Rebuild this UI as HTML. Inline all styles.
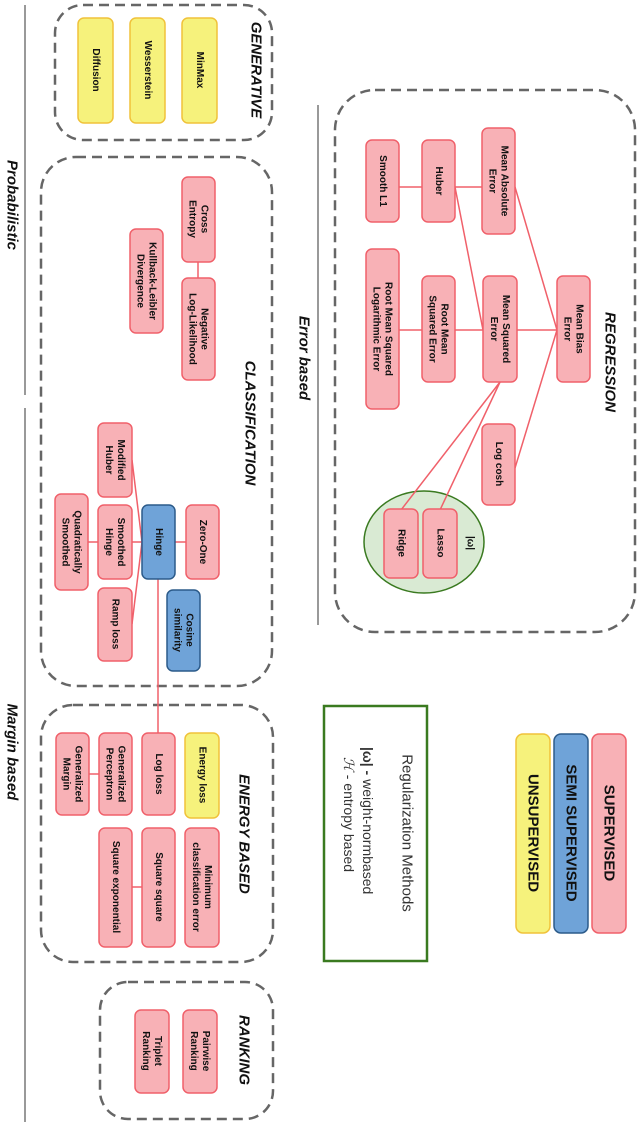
<!DOCTYPE html>
<html><head><meta charset="utf-8"><style>
html,body{margin:0;padding:0;background:#fff}
svg{display:block}
.p{fill:#f8b1b6;stroke:#f0606a;stroke-width:1.5}
.b{fill:#6fa3d8;stroke:#2c5b8a;stroke-width:1.5}
.y{fill:#f6f27c;stroke:#f0c23a;stroke-width:1.5}
.g{fill:none;stroke:#666;stroke-width:2.5;stroke-dasharray:10 6}
.l{stroke:#f0606a;stroke-width:1.5;fill:none}
text{font-family:"Liberation Sans",sans-serif;font-size:10px;font-weight:bold;fill:#111;text-anchor:middle;dominant-baseline:central}
.h{font-size:15px;font-style:italic}
</style></head><body>
<svg width="640" height="1125" viewBox="0 0 640 1125" xmlns="http://www.w3.org/2000/svg">
<line x1="25" y1="5" x2="25" y2="395" stroke="#333" stroke-width="1"/>
<line x1="25" y1="408" x2="25" y2="1122" stroke="#333" stroke-width="1"/>
<line x1="318" y1="105" x2="318" y2="625" stroke="#333" stroke-width="1"/>
<text class="h" font-size="14" transform="translate(12,205) rotate(90)">Probabilistic</text>
<text class="h" font-size="14" transform="translate(12,752) rotate(90)">Margin based</text>
<text class="h" font-size="14" transform="translate(304,358) rotate(90)">Error based</text>

<rect class="g" x="55" y="5" width="217" height="135" rx="28"/>
<rect class="g" x="41" y="157" width="231" height="529" rx="35"/>
<rect class="g" x="41" y="705" width="232" height="257" rx="32"/>
<rect class="g" x="100" y="982" width="173" height="137" rx="28"/>
<rect class="g" x="335" y="90" width="300" height="542" rx="40"/>

<text class="h" transform="translate(256,70) rotate(90)">GENERATIVE</text>
<text class="h" transform="translate(250,423) rotate(90)">CLASSIFICATION</text>
<text class="h" transform="translate(244,834) rotate(90)">ENERGY BASED</text>
<text class="h" transform="translate(244,1050) rotate(90)">RANKING</text>
<text class="h" transform="translate(610,362) rotate(90)">REGRESSION</text>

<rect class="y" x="182" y="18" width="35" height="105" rx="6"/>
<text transform="translate(199.5,70) rotate(90)">MinMax</text>
<rect class="y" x="130" y="18" width="35" height="105" rx="6"/>
<text transform="translate(147.5,70) rotate(90)">Wesserstein</text>
<rect class="y" x="78" y="18" width="35" height="105" rx="6"/>
<text transform="translate(95.5,70) rotate(90)">Diffusion</text>

<line class="l" x1="399" y1="187" x2="482" y2="187"/>
<line class="l" x1="455" y1="187" x2="483" y2="330"/>
<line class="l" x1="515" y1="187" x2="557" y2="330"/>
<line class="l" x1="399" y1="330" x2="557" y2="330"/>
<line class="l" x1="515" y1="468" x2="557" y2="330"/>
<ellipse cx="424" cy="542" rx="60" ry="51" fill="#d9ead3" stroke="#3a7a20" stroke-width="1.5"/>
<line class="l" x1="500" y1="382" x2="440" y2="510"/>
<line class="l" x1="500" y1="382" x2="401" y2="510"/>

<rect class="p" x="482" y="128" width="33" height="106" rx="6"/>
<text transform="translate(498.5,181) rotate(90)"><tspan x="0" dy="-6">Mean Absolute</tspan><tspan x="0" dy="12">Error</tspan></text>
<rect class="p" x="422" y="140" width="33" height="82" rx="6"/>
<text transform="translate(438.5,181) rotate(90)">Huber</text>
<rect class="p" x="366" y="140" width="33" height="82" rx="6"/>
<text transform="translate(382.5,181) rotate(90)">Smooth L1</text>
<rect class="p" x="366" y="249" width="33" height="160" rx="6"/>
<text transform="translate(382.5,329) rotate(90)"><tspan x="0" dy="-6">Root Mean Squared</tspan><tspan x="0" dy="12">Logarithmic Error</tspan></text>
<rect class="p" x="422" y="276" width="33" height="106" rx="6"/>
<text transform="translate(438.5,329) rotate(90)"><tspan x="0" dy="-6">Root Mean</tspan><tspan x="0" dy="12">Squared Error</tspan></text>
<rect class="p" x="483" y="276" width="34" height="106" rx="6"/>
<text transform="translate(500,329) rotate(90)"><tspan x="0" dy="-6">Mean Squared</tspan><tspan x="0" dy="12">Error</tspan></text>
<rect class="p" x="557" y="276" width="33" height="106" rx="6"/>
<text transform="translate(573.5,329) rotate(90)"><tspan x="0" dy="-6">Mean Bias</tspan><tspan x="0" dy="12">Error</tspan></text>
<rect class="p" x="482" y="424" width="33" height="81" rx="6"/>
<text transform="translate(498.5,464) rotate(90)">Log cosh</text>
<rect class="p" x="423" y="509" width="34" height="69" rx="6"/>
<text transform="translate(440,543) rotate(90)">Lasso</text>
<rect class="p" x="384" y="509" width="34" height="69" rx="6"/>
<text transform="translate(401,543) rotate(90)">Ridge</text>
<text transform="translate(470,543) rotate(90)">|ω|</text>

<line class="l" x1="198" y1="262" x2="198" y2="278"/>
<rect class="p" x="182" y="177" width="33" height="85" rx="6"/>
<text transform="translate(198.5,219) rotate(90)"><tspan x="0" dy="-6">Cross</tspan><tspan x="0" dy="12">Entropy</tspan></text>
<rect class="p" x="182" y="278" width="33" height="102" rx="6"/>
<text transform="translate(198.5,329) rotate(90)"><tspan x="0" dy="-6">Negative</tspan><tspan x="0" dy="12">Log-Likelihood</tspan></text>
<rect class="p" x="130" y="229" width="33" height="104" rx="6"/>
<text transform="translate(146.5,281) rotate(90)"><tspan x="0" dy="-6">Kullback-Leibler</tspan><tspan x="0" dy="12">Divergence</tspan></text>

<line class="l" x1="55" y1="542" x2="218" y2="542"/>
<line class="l" x1="132" y1="460" x2="142" y2="542"/>
<line class="l" x1="132" y1="624" x2="142" y2="542"/>
<line class="l" x1="158" y1="579" x2="158" y2="733"/>
<rect class="p" x="98" y="423" width="34" height="74" rx="6"/>
<text transform="translate(115,460) rotate(90)"><tspan x="0" dy="-6">Modified</tspan><tspan x="0" dy="12">Huber</tspan></text>
<rect class="p" x="186" y="505" width="33" height="74" rx="6"/>
<text transform="translate(202.5,542) rotate(90)">Zero-One</text>
<rect class="b" x="142" y="505" width="33" height="74" rx="6"/>
<text transform="translate(158.5,542) rotate(90)">Hinge</text>
<rect class="p" x="98" y="505" width="34" height="74" rx="6"/>
<text transform="translate(115,542) rotate(90)"><tspan x="0" dy="-6">Smoothed</tspan><tspan x="0" dy="12">Hinge</tspan></text>
<rect class="p" x="55" y="494" width="33" height="96" rx="6"/>
<text transform="translate(71.5,542) rotate(90)"><tspan x="0" dy="-6">Quadratically</tspan><tspan x="0" dy="12">Smoothed</tspan></text>
<rect class="p" x="98" y="588" width="34" height="73" rx="6"/>
<text transform="translate(115,624) rotate(90)">Ramp loss</text>
<rect class="b" x="167" y="590" width="33" height="81" rx="6"/>
<text transform="translate(183.5,630) rotate(90)"><tspan x="0" dy="-6">Cosine</tspan><tspan x="0" dy="12">similarity</tspan></text>

<line class="l" x1="89" y1="774" x2="99" y2="774"/>
<line class="l" x1="132" y1="887" x2="142" y2="887"/>
<rect class="y" x="185" y="733" width="34" height="85" rx="6"/>
<text transform="translate(202,775) rotate(90)">Energy loss</text>
<rect class="p" x="142" y="733" width="33" height="82" rx="6"/>
<text transform="translate(158.5,774) rotate(90)">Log loss</text>
<rect class="p" x="99" y="733" width="33" height="82" rx="6"/>
<text transform="translate(115.5,774) rotate(90)"><tspan x="0" dy="-6">Generalized</tspan><tspan x="0" dy="12">Perceptron</tspan></text>
<rect class="p" x="56" y="733" width="33" height="82" rx="6"/>
<text transform="translate(72.5,774) rotate(90)"><tspan x="0" dy="-6">Generalized</tspan><tspan x="0" dy="12">Margin</tspan></text>
<rect class="p" x="185" y="828" width="34" height="119" rx="6"/>
<text transform="translate(202,887) rotate(90)"><tspan x="0" dy="-6">Minimum</tspan><tspan x="0" dy="12">classification error</tspan></text>
<rect class="p" x="142" y="828" width="33" height="119" rx="6"/>
<text transform="translate(158.5,887) rotate(90)">Square square</text>
<rect class="p" x="99" y="828" width="33" height="119" rx="6"/>
<text transform="translate(115.5,887) rotate(90)">Square exponential</text>

<rect class="p" x="183" y="1010" width="34" height="83" rx="6"/>
<text transform="translate(200,1051) rotate(90)"><tspan x="0" dy="-6">Pairwise</tspan><tspan x="0" dy="12">Ranking</tspan></text>
<rect class="p" x="135" y="1010" width="34" height="83" rx="6"/>
<text transform="translate(152,1051) rotate(90)"><tspan x="0" dy="-6">Triplet</tspan><tspan x="0" dy="12">Ranking</tspan></text>

<rect x="324" y="706" width="103" height="255" fill="none" stroke="#3a7a20" stroke-width="2.5"/>
<text transform="translate(407,833) rotate(90)" style="font-size:15px;font-weight:normal;fill:#333">Regularization Methods</text>
<text transform="translate(368,747) rotate(90)" style="text-anchor:start;font-size:14px;font-weight:normal;fill:#333"><tspan font-weight="bold">|ω| -</tspan> weight-normbased</text>
<text transform="translate(349,757) rotate(90)" style="text-anchor:start;font-size:14px;font-weight:normal;fill:#333"><tspan font-style="italic">ℋ</tspan> - entropy based</text>

<rect class="p" x="592" y="734" width="34" height="199" rx="7"/>
<text transform="translate(609,833) rotate(90)" style="font-size:15px">SUPERVISED</text>
<rect class="b" x="554" y="734" width="34" height="199" rx="7"/>
<text transform="translate(571,833) rotate(90)" style="font-size:15px">SEMI SUPERVISED</text>
<rect class="y" x="516" y="734" width="34" height="199" rx="7"/>
<text transform="translate(533,833) rotate(90)" style="font-size:15px">UNSUPERVISED</text>
</svg>
</body></html>
